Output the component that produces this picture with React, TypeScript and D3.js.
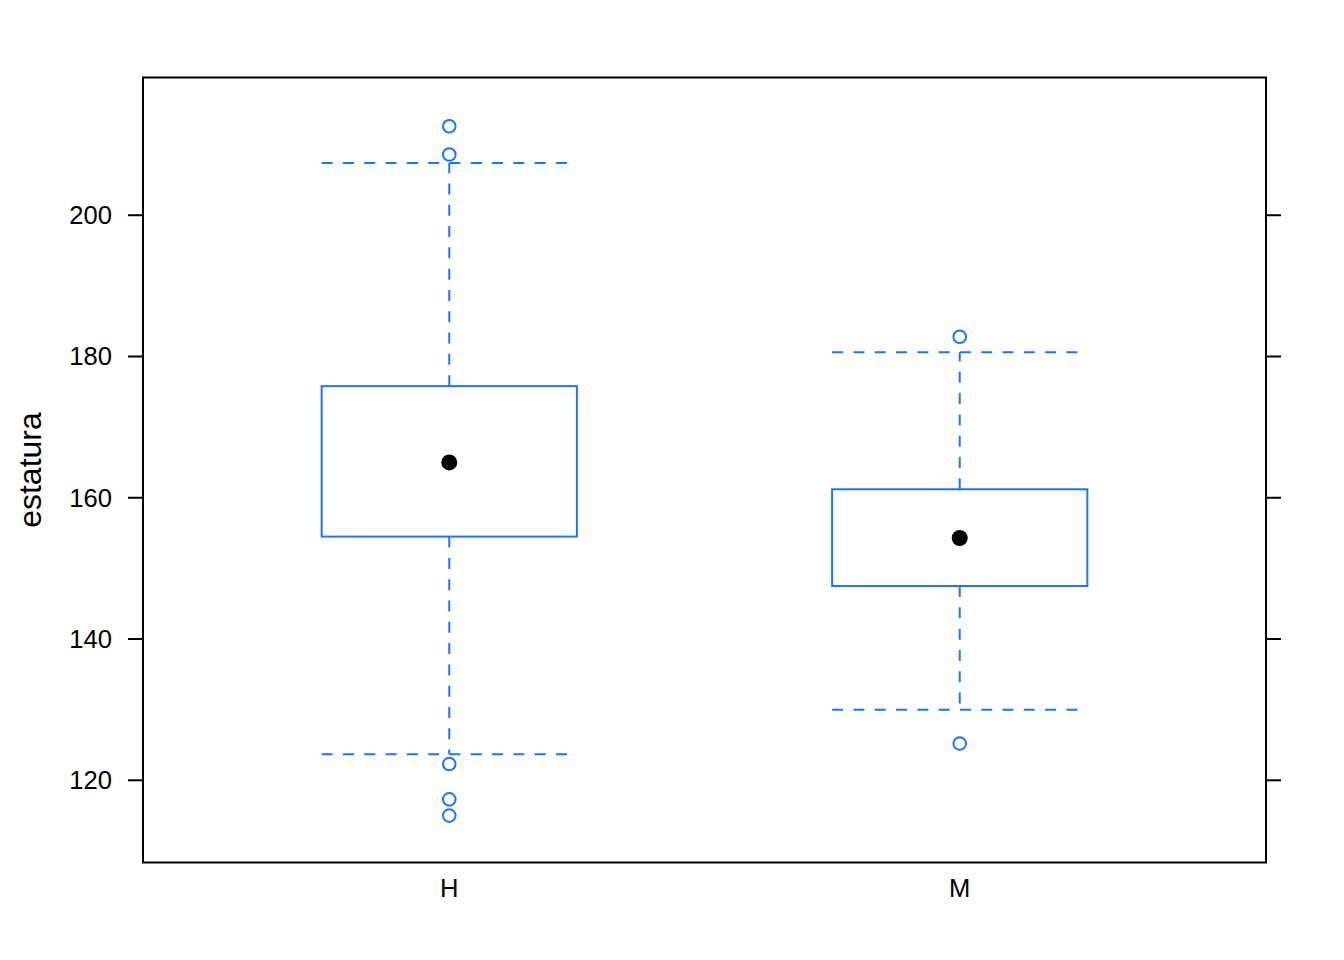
import React from 'react';
import * as d3 from 'd3';

// categories and five-number summaries
const groups = ['H', 'M'];
const lowerWhisker = [123.7, 130.0];
const lowerHinge = [154.5, 147.5];
const medians = [165.0, 154.3];
const upperHinge = [175.8, 161.2];
const upperWhisker = [207.4, 180.6];
const outliersH = [212.6, 208.6, 122.3, 117.3, 115.0];
const outliersM = [182.8, 125.2];
const outliers = [outliersH, outliersM];
const yTicks = [120, 140, 160, 180, 200];
const yLabel = 'estatura';

const W = 1344;
const H = 960;
const panel = { left: 143, right: 1266, top: 77.5, bottom: 862.5 };
const blue = '#1a74ff';
const font = '"Liberation Sans", Arial, Helvetica, sans-serif';

export default function App() {
  const x = d3.scaleLinear().domain([0.4, 2.6]).range([panel.left, panel.right]);
  const y = d3.scaleLinear().domain([108.36, 219.5]).range([panel.bottom, panel.top]);
  const boxHalf = (x(1.5) - x(1)) / 2;
  const dash = '11 10.3';

  return (
    <svg
      width={W}
      height={H}
      style={{ position: 'absolute', left: 0, top: 0, background: '#fff' }}
      fontFamily={font}
    >
      {/* y ticks, left with labels, right without */}
      {yTicks.map(t => (
        <g key={t}>
          <line x1={panel.left - 15} x2={panel.left} y1={y(t)} y2={y(t)} stroke="#000" strokeWidth={2} />
          <line x1={panel.right} x2={panel.right + 15} y1={y(t)} y2={y(t)} stroke="#000" strokeWidth={2} />
          <text x={panel.left - 31} y={y(t)} dy="0.35em" textAnchor="end" fontSize={25.6}>
            {t}
          </text>
        </g>
      ))}

      {groups.map((g, i) => {
        const cx = x(i + 1);
        return (
          <g key={g}>
            {/* whiskers */}
            <line x1={cx} x2={cx} y1={y(upperHinge[i])} y2={y(upperWhisker[i])} stroke={blue} strokeWidth={2} strokeDasharray={dash} />
            <line x1={cx} x2={cx} y1={y(lowerHinge[i])} y2={y(lowerWhisker[i])} stroke={blue} strokeWidth={2} strokeDasharray={dash} />
            <line x1={cx - boxHalf} x2={cx + boxHalf} y1={y(upperWhisker[i])} y2={y(upperWhisker[i])} stroke={blue} strokeWidth={2} strokeDasharray={dash} />
            <line x1={cx - boxHalf} x2={cx + boxHalf} y1={y(lowerWhisker[i])} y2={y(lowerWhisker[i])} stroke={blue} strokeWidth={2} strokeDasharray={dash} />
            {/* box */}
            <rect
              x={cx - boxHalf}
              y={y(upperHinge[i])}
              width={boxHalf * 2}
              height={y(lowerHinge[i]) - y(upperHinge[i])}
              fill="none"
              stroke={blue}
              strokeWidth={2}
            />
            {/* median dot */}
            <circle cx={cx} cy={y(medians[i])} r={8} fill="#000" />
            {/* outliers */}
            {outliers[i].map((v, k) => (
              <circle key={k} cx={cx} cy={y(v)} r={6.3} fill="none" stroke={blue} strokeWidth={2} />
            ))}
            <text x={cx} y={panel.bottom + 26} dy="0.35em" textAnchor="middle" fontSize={25.6}>
              {g}
            </text>
          </g>
        );
      })}

      {/* panel border */}
      <rect
        x={panel.left}
        y={panel.top}
        width={panel.right - panel.left}
        height={panel.bottom - panel.top}
        fill="none"
        stroke="#000"
        strokeWidth={2}
      />

      <text
        transform={`translate(30,${(panel.top + panel.bottom) / 2}) rotate(-90)`}
        dy="0.35em"
        textAnchor="middle"
        fontSize={32}
      >
        {yLabel}
      </text>
    </svg>
  );
}
